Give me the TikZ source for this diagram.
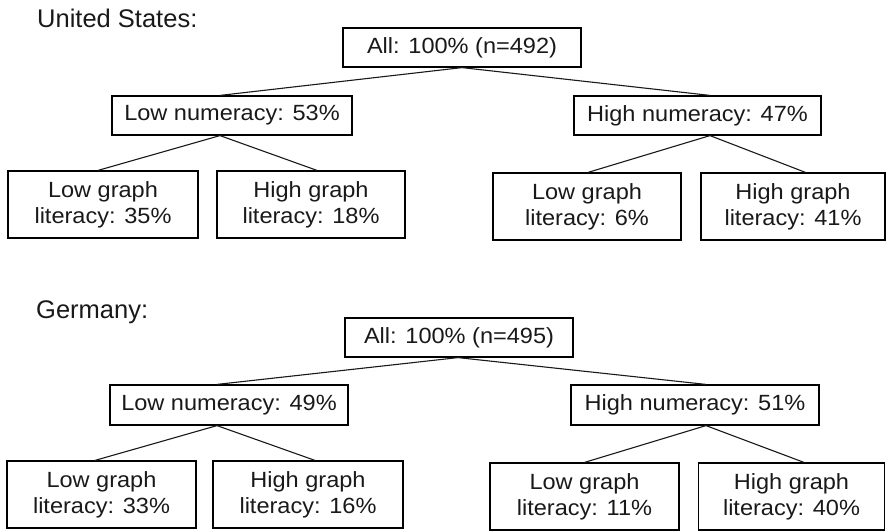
\documentclass[tikz,border=0pt]{standalone}
\usepackage{fontspec}
\newfontfamily\boxfont{Liberation Sans}[FakeStretch=1.07]
\newfontfamily\titlefont{Liberation Sans}
\tikzset{
  box/.style={draw=black, line width=1.2pt, inner sep=0pt, align=center,
    font=\boxfont\fontsize{22}{26}\selectfont, text=black!90},
  onebox/.style={box, minimum height=39pt},
  twobox/.style={box, minimum height=67pt},
  link/.style={draw=black!90, line width=1.1pt},
  ttl/.style={anchor=base west, inner sep=0pt, font=\titlefont\fontsize{25.5}{30}\selectfont, text=black!90}
}
\begin{document}
\begin{tikzpicture}[x=1pt,y=-1pt]
\useasboundingbox (0,0) rectangle (886,531);
% United States
\node[ttl] (ustitle) at (37,27) {United States:};
\node[onebox, minimum width=238pt] (usall) at (462,47.5) {All: 100\% (n=492)};
\node[onebox, minimum width=240pt] (uslow) at (232,115.5) {Low numeracy: 53\%};
\node[onebox, minimum width=247pt] (ushigh) at (697.5,115.5) {High numeracy: 47\%};
\node[twobox, minimum width=190pt] (usll) at (103,204.5) {Low graph\\literacy: 35\%};
\node[twobox, minimum width=188pt] (uslh) at (311,204.5) {High graph\\literacy: 18\%};
\node[twobox, minimum width=188pt] (ushl) at (587,206.5) {Low graph\\literacy: 6\%};
\node[twobox, minimum width=184pt] (ushh) at (793,206.5) {High graph\\literacy: 41\%};
\draw[link] (usall.south) -- ([xshift=-12pt]uslow.north);
\draw[link] (usall.south) -- ([xshift=12.5pt]ushigh.north);
\draw[link] ([xshift=-12pt]uslow.south) -- ([xshift=-5pt]usll.north);
\draw[link] ([xshift=-12pt]uslow.south) -- ([xshift=6pt]uslh.north);
\draw[link] ([xshift=12.5pt]ushigh.south) -- ([xshift=1pt]ushl.north);
\draw[link] ([xshift=12.5pt]ushigh.south) -- ([xshift=12.5pt]ushh.north);
% Germany
\node[ttl] (detitle) at (36,318) {Germany:};
\node[onebox, minimum width=228pt] (deall) at (459,337.5) {All: 100\% (n=495)};
\node[onebox, minimum width=238pt, minimum height=40pt] (delow) at (229,405) {Low numeracy: 49\%};
\node[onebox, minimum width=248pt, minimum height=40pt] (dehigh) at (695,405) {High numeracy: 51\%};
\node[twobox, minimum width=189pt] (dell) at (101.5,494.5) {Low graph\\literacy: 33\%};
\node[twobox, minimum width=190pt] (delh) at (308,494.5) {High graph\\literacy: 16\%};
\node[twobox, minimum width=189pt] (dehl) at (584.5,496.5) {Low graph\\literacy: 11\%};
\node[twobox, minimum width=186pt] (dehh) at (791.5,496.5) {High graph\\literacy: 40\%};
\draw[link] ([xshift=-1pt]deall.south) -- ([xshift=-12pt]delow.north);
\draw[link] ([xshift=-1pt]deall.south) -- ([xshift=11pt]dehigh.north);
\draw[link] ([xshift=-12pt]delow.south) -- ([xshift=-6.5pt]dell.north);
\draw[link] ([xshift=-12pt]delow.south) -- ([xshift=7pt]delh.north);
\draw[link] ([xshift=11pt]dehigh.south) -- ([xshift=0pt]dehl.north);
\draw[link] ([xshift=11pt]dehigh.south) -- ([xshift=12.5pt]dehh.north);
\end{tikzpicture}
\end{document}
